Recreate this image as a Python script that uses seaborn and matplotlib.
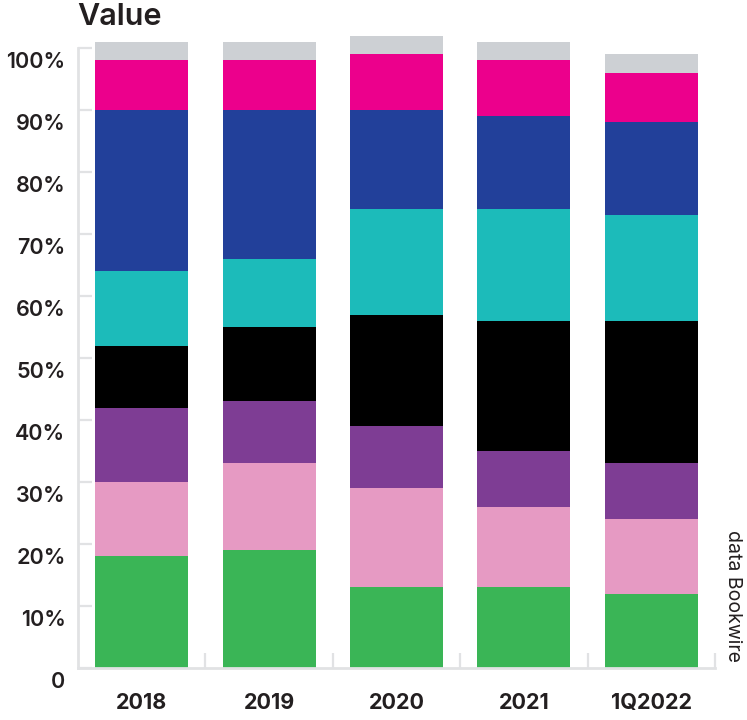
import numpy as np
import pandas as pd
import seaborn as sns
import matplotlib.pyplot as plt
from matplotlib.transforms import ScaledTranslation

# categories and segment shares (%), bottom to top
periods = ['2018', '2019', '2020', '2021', '1Q2022']
green = [18, 19, 13, 13, 12]
light_pink = [12, 14, 16, 13, 12]
purple = [12, 10, 10, 9, 9]
black = [10, 12, 18, 21, 23]
teal = [12, 11, 17, 18, 17]
navy = [26, 24, 16, 15, 15]
magenta = [8, 8, 9, 9, 8]
grey = [3, 3, 3, 3, 3]

segments = [green, light_pink, purple, black, teal, navy, magenta, grey]
colors = ['#3AB556', '#E69AC3', '#7E3D94', '#000000',
          '#1CBBBA', '#22409A', '#EC008C', '#CDD0D4']

y_ticks = [0, 10, 20, 30, 40, 50, 60, 70, 80, 90, 100]
y_labels = ['0'] + [f'{v}%' for v in y_ticks[1:]]

sns.set_theme(style='white')
plt.rcParams['font.family'] = ['Inter', 'DejaVu Sans']
text_col = '#231F20'
axis_col = '#E1E2E4'

fig = plt.figure(figsize=(7.47, 7.2), dpi=100)
ax = fig.add_axes([78 / 747, 1 - 668 / 720, 637 / 747, (668 - 29.4) / 720])

bottom = np.zeros(len(periods))
for vals, col in zip(segments, colors):
    df = pd.DataFrame({'period': periods, 'share': vals})
    sns.barplot(data=df, x='period', y='share', bottom=bottom, color=col,
                saturation=1, width=0.73, linewidth=0, ax=ax)
    bottom = bottom + np.array(vals)

ax.set_xlim(-0.5, 4.5)
ax.set_ylim(0, 103)
ax.set_xlabel('')
ax.set_ylabel('')

# axes styling
for side in ['top', 'right']:
    ax.spines[side].set_visible(False)
for side in ['left', 'bottom']:
    ax.spines[side].set_color(axis_col)
    ax.spines[side].set_linewidth(2)
ax.spines['left'].set_bounds(0, 100)

ax.set_yticks(y_ticks)
ax.set_yticklabels(y_labels, fontsize=15.5, fontweight='semibold', color=text_col)
ax.tick_params(axis='y', direction='in', length=10, width=1.6,
               color=axis_col, pad=9, left=True)
offset = ScaledTranslation(0, -12 / 100, fig.dpi_scale_trans)
for lab in ax.get_yticklabels():
    lab.set_transform(lab.get_transform() + offset)

ax.set_xticks(range(len(periods)))
ax.set_xticklabels(periods, fontsize=15.5, fontweight='bold', color=text_col)
ax.set_xticks([0.5, 1.5, 2.5, 3.5, 4.5], minor=True)
ax.tick_params(axis='x', which='major', length=0, pad=18)
ax.tick_params(axis='x', which='minor', direction='in', length=11,
               width=1.6, color=axis_col, bottom=True)

fig.text(77 / 747, 1 - 17 / 720, 'Value', fontsize=22, fontweight='semibold',
         color=text_col, va='center', ha='left')
fig.text(733 / 747, 1 - 596 / 720, 'data Bookwire', fontsize=14,
         fontweight='normal', color=text_col, rotation=-90,
         va='center', ha='center')

fig.savefig('out.png', dpi=100)
